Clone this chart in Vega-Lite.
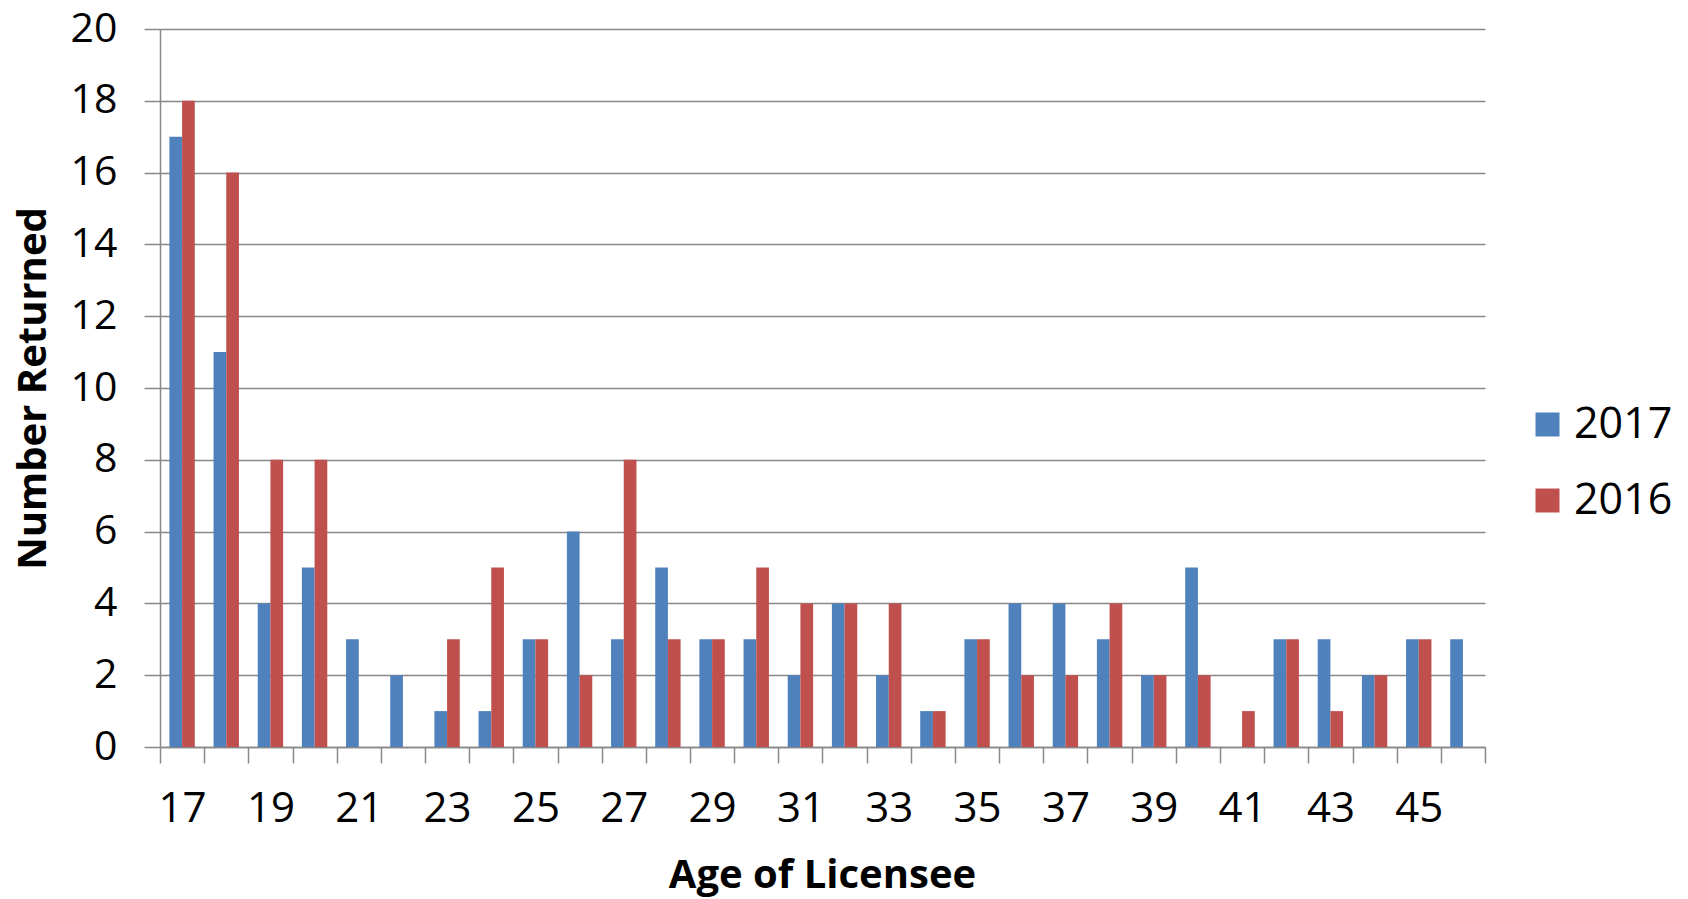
{
  "$schema": "https://vega.github.io/schema/vega-lite/v6.json",
  "width": 1325,
  "height": 718,
  "autosize": {"type": "none"},
  "padding": {"left": 160, "top": 29, "right": 203, "bottom": 152},
  "config": {"view": {"stroke": null}, "font": "Open Sans"},
  "data": {"values": [
    {"age": 17, "year": "2017", "value": 17}, {"age": 17, "year": "2016", "value": 18},
    {"age": 18, "year": "2017", "value": 11}, {"age": 18, "year": "2016", "value": 16},
    {"age": 19, "year": "2017", "value": 4}, {"age": 19, "year": "2016", "value": 8},
    {"age": 20, "year": "2017", "value": 5}, {"age": 20, "year": "2016", "value": 8},
    {"age": 21, "year": "2017", "value": 3}, {"age": 21, "year": "2016", "value": 0},
    {"age": 22, "year": "2017", "value": 2}, {"age": 22, "year": "2016", "value": 0},
    {"age": 23, "year": "2017", "value": 1}, {"age": 23, "year": "2016", "value": 3},
    {"age": 24, "year": "2017", "value": 1}, {"age": 24, "year": "2016", "value": 5},
    {"age": 25, "year": "2017", "value": 3}, {"age": 25, "year": "2016", "value": 3},
    {"age": 26, "year": "2017", "value": 6}, {"age": 26, "year": "2016", "value": 2},
    {"age": 27, "year": "2017", "value": 3}, {"age": 27, "year": "2016", "value": 8},
    {"age": 28, "year": "2017", "value": 5}, {"age": 28, "year": "2016", "value": 3},
    {"age": 29, "year": "2017", "value": 3}, {"age": 29, "year": "2016", "value": 3},
    {"age": 30, "year": "2017", "value": 3}, {"age": 30, "year": "2016", "value": 5},
    {"age": 31, "year": "2017", "value": 2}, {"age": 31, "year": "2016", "value": 4},
    {"age": 32, "year": "2017", "value": 4}, {"age": 32, "year": "2016", "value": 4},
    {"age": 33, "year": "2017", "value": 2}, {"age": 33, "year": "2016", "value": 4},
    {"age": 34, "year": "2017", "value": 1}, {"age": 34, "year": "2016", "value": 1},
    {"age": 35, "year": "2017", "value": 3}, {"age": 35, "year": "2016", "value": 3},
    {"age": 36, "year": "2017", "value": 4}, {"age": 36, "year": "2016", "value": 2},
    {"age": 37, "year": "2017", "value": 4}, {"age": 37, "year": "2016", "value": 2},
    {"age": 38, "year": "2017", "value": 3}, {"age": 38, "year": "2016", "value": 4},
    {"age": 39, "year": "2017", "value": 2}, {"age": 39, "year": "2016", "value": 2},
    {"age": 40, "year": "2017", "value": 5}, {"age": 40, "year": "2016", "value": 2},
    {"age": 41, "year": "2017", "value": 0}, {"age": 41, "year": "2016", "value": 1},
    {"age": 42, "year": "2017", "value": 3}, {"age": 42, "year": "2016", "value": 3},
    {"age": 43, "year": "2017", "value": 3}, {"age": 43, "year": "2016", "value": 1},
    {"age": 44, "year": "2017", "value": 2}, {"age": 44, "year": "2016", "value": 2},
    {"age": 45, "year": "2017", "value": 3}, {"age": 45, "year": "2016", "value": 3},
    {"age": 46, "year": "2017", "value": 3}, {"age": 46, "year": "2016", "value": 0}
  ]},
  "mark": {"type": "bar"},
  "encoding": {
    "x": {
      "field": "age", "type": "ordinal",
      "scale": {"paddingInner": 0, "paddingOuter": 0},
      "axis": {
        "title": "Age of Licensee",
        "labelAngle": 0,
        "labelExpr": "datum.value % 2 == 1 ? datum.label : ''",
        "tickBand": "extent",
        "tickSize": 16, "tickColor": "#888888", "tickWidth": 1.5,
        "domainColor": "#888888", "domainWidth": 1.5,
        "labelFontSize": 42, "labelColor": "#000000", "labelPadding": 25,
        "labelBaseline": "top",
        "titleFontSize": 40, "titleFontWeight": "bold", "titleColor": "#000000",
        "titleX": 662, "titleY": 128, "titleBaseline": "middle", "titleAlign": "center"
      }
    },
    "xOffset": {
      "field": "year", "type": "nominal",
      "sort": ["2017", "2016"],
      "scale": {"paddingInner": 0, "paddingOuter": 0.74}
    },
    "y": {
      "field": "value", "type": "quantitative",
      "scale": {"domain": [0, 20], "nice": false},
      "axis": {
        "values": [0, 2, 4, 6, 8, 10, 12, 14, 16, 18, 20],
        "title": "Number Returned",
        "grid": true, "gridColor": "#888888", "gridWidth": 1.5,
        "tickSize": 16, "tickColor": "#888888", "tickWidth": 1.5,
        "domainColor": "#888888", "domainWidth": 1.5,
        "labelFontSize": 41, "labelColor": "#000000", "labelPadding": 27,
        "titleFontSize": 40, "titleFontWeight": "bold", "titleColor": "#000000",
        "titleX": -127, "titleY": 359, "titleAngle": -90, "titleBaseline": "middle", "titleAlign": "center"
      }
    },
    "color": {
      "field": "year", "type": "nominal",
      "scale": {"domain": ["2017", "2016"], "range": ["#4F81BD", "#C0504D"]},
      "legend": {
        "title": null,
        "orient": "none", "legendX": 1366, "legendY": 374,
        "padding": 0,
        "symbolType": "square", "symbolSize": 576, "symbolStrokeWidth": 0,
        "labelFontSize": 43, "labelColor": "#000000", "labelOffset": 5,
        "rowPadding": 32
      }
    }
  }
}
